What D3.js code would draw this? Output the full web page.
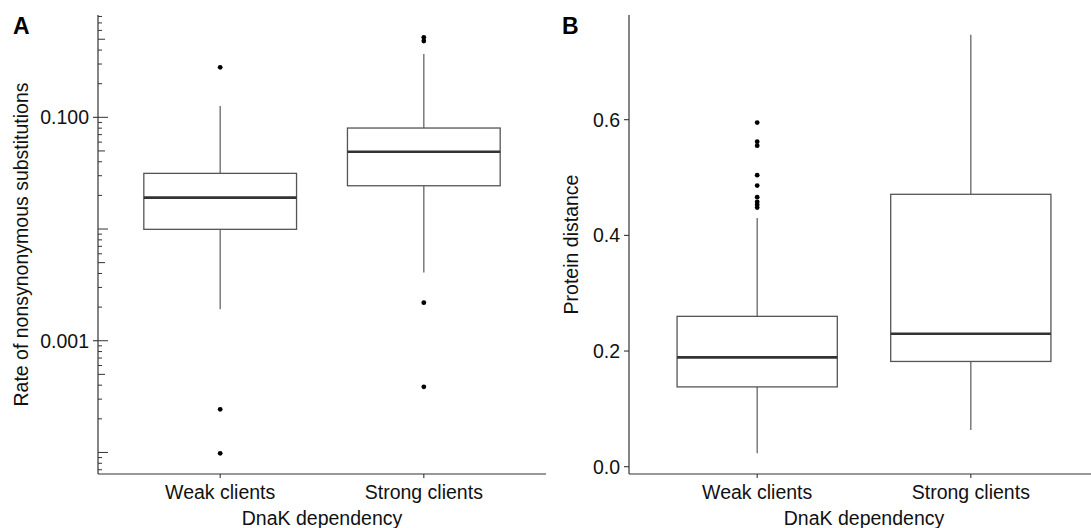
<!DOCTYPE html>
<html>
<head>
<meta charset="utf-8">
<script src="https://cdn.jsdelivr.net/npm/d3@7"></script>
<style>
  html, body { margin: 0; padding: 0; background: #fff; }
  svg { display: block; }
</style>
</head>
<body>
<div id="vis"></div>
<script>
// categories shared by both panels
const categories = ["Weak clients", "Strong clients"];

// panel A: rate of nonsynonymous substitutions (log scale)
const rateLow = [0.00191, 0.00409];
const rateQ1 = [0.00994, 0.0244];
const rateMedian = [0.0191, 0.0492];
const rateQ3 = [0.0315, 0.0802];
const rateHigh = [0.126, 0.369];
const rateOutliers = [[0.280, 0.000243, 0.0000982], [0.520, 0.482, 0.00219, 0.000387]];
const rateTicks = [0.001, 0.1];
const rateTickLabels = ["0.001", "0.100"];

// panel B: protein distance
const distLow = [0.0232, 0.0635];
const distQ1 = [0.138, 0.182];
const distMedian = [0.189, 0.230];
const distQ3 = [0.260, 0.471];
const distHigh = [0.430, 0.747];
const distOutliers = [[0.595, 0.562, 0.555, 0.504, 0.486, 0.466, 0.458, 0.453, 0.448], []];
const distTicks = [0, 0.2, 0.4, 0.6];
const distTickLabels = ["0.0", "0.2", "0.4", "0.6"];

const width = 1091, height = 528;
const font = "'Liberation Sans', Arial, Helvetica, sans-serif";
const fontSize = 19.5;
const plotTop = 15, plotBottom = 474;

const svg = d3.select("#vis").append("svg")
  .attr("width", width)
  .attr("height", height)
  .attr("font-family", font);

function drawPanel(opt) {
  const x = d3.scalePoint()
    .domain(categories)
    .range([opt.left, opt.right])
    .padding(0.6);
  const y = opt.y;
  const boxW = x.step() * 0.75;

  const g = svg.append("g");

  // boxes
  categories.forEach((c, i) => {
    const cx = x(c);
    const bg = g.append("g");
    bg.append("line")
      .attr("x1", cx).attr("x2", cx)
      .attr("y1", y(opt.q3[i])).attr("y2", y(opt.high[i]))
      .attr("stroke", "#666").attr("stroke-width", 1.3);
    bg.append("line")
      .attr("x1", cx).attr("x2", cx)
      .attr("y1", y(opt.q1[i])).attr("y2", y(opt.low[i]))
      .attr("stroke", "#666").attr("stroke-width", 1.3);
    bg.append("rect")
      .attr("x", cx - boxW / 2)
      .attr("y", y(opt.q3[i]))
      .attr("width", boxW)
      .attr("height", y(opt.q1[i]) - y(opt.q3[i]))
      .attr("fill", "#fff")
      .attr("stroke", "#555")
      .attr("stroke-width", 1.3);
    bg.append("line")
      .attr("x1", cx - boxW / 2).attr("x2", cx + boxW / 2)
      .attr("y1", y(opt.median[i])).attr("y2", y(opt.median[i]))
      .attr("stroke", "#333").attr("stroke-width", 2.6);
    bg.selectAll("circle")
      .data(opt.outliers[i])
      .join("circle")
      .attr("cx", cx)
      .attr("cy", (d) => y(d))
      .attr("r", 2.4)
      .attr("fill", "#000");
  });

  // axis lines
  g.append("line")
    .attr("x1", opt.left).attr("x2", opt.left)
    .attr("y1", plotTop).attr("y2", plotBottom)
    .attr("stroke", "#333").attr("stroke-width", 1.2);
  g.append("line")
    .attr("x1", opt.left).attr("x2", opt.right)
    .attr("y1", plotBottom).attr("y2", plotBottom)
    .attr("stroke", "#333").attr("stroke-width", 1.2);

  // y ticks and labels
  const yt = g.append("g");
  opt.ticks.forEach((t, i) => {
    yt.append("line")
      .attr("x1", opt.left - 5).attr("x2", opt.left)
      .attr("y1", y(t)).attr("y2", y(t))
      .attr("stroke", "#333").attr("stroke-width", 1.1);
    yt.append("text")
      .attr("x", opt.left - 9)
      .attr("y", y(t))
      .attr("dy", "0.36em")
      .attr("text-anchor", "end")
      .attr("font-size", fontSize)
      .attr("fill", "#111")
      .text(opt.tickLabels[i]);
  });

  // x ticks and labels
  categories.forEach((c) => {
    g.append("line")
      .attr("x1", x(c)).attr("x2", x(c))
      .attr("y1", plotBottom).attr("y2", plotBottom + 4)
      .attr("stroke", "#333").attr("stroke-width", 1.1);
    g.append("text")
      .attr("x", x(c))
      .attr("y", 499)
      .attr("text-anchor", "middle")
      .attr("font-size", fontSize)
      .attr("fill", "#111")
      .text(c);
  });

  // titles
  g.append("text")
    .attr("x", (opt.left + opt.right) / 2)
    .attr("y", 525)
    .attr("text-anchor", "middle")
    .attr("font-size", fontSize)
    .attr("fill", "#111")
    .text("DnaK dependency");
  g.append("text")
    .attr("transform", `translate(${opt.titleX},${(plotTop + plotBottom) / 2}) rotate(-90)`)
    .attr("text-anchor", "middle")
    .attr("font-size", fontSize)
    .attr("fill", "#111")
    .text(opt.yTitle);
  g.append("text")
    .attr("x", opt.letterX)
    .attr("y", 34)
    .attr("font-size", 23)
    .attr("font-weight", "bold")
    .attr("fill", "#000")
    .text(opt.letter);

  return g;
}

// panel A
const yRate = d3.scaleLog()
  .domain([Math.pow(10, -4.193), Math.pow(10, -0.084)])
  .range([plotBottom, plotTop]);

const panelA = drawPanel({
  left: 98, right: 546, y: yRate,
  low: rateLow, q1: rateQ1, median: rateMedian, q3: rateQ3, high: rateHigh,
  outliers: rateOutliers,
  ticks: rateTicks, tickLabels: rateTickLabels,
  yTitle: "Rate of nonsynonymous substitutions", titleX: 28,
  letter: "A", letterX: 13
});

// log ticks inside panel A (short, mid at 5, long at powers of ten)
const [lo, hi] = yRate.domain();
const logTicks = [];
for (let k = Math.floor(Math.log10(lo)); k <= Math.ceil(Math.log10(hi)); k++) {
  for (let m = 1; m <= 9; m++) {
    const v = m * Math.pow(10, k);
    if (v >= lo && v <= hi) logTicks.push({ v, len: m === 1 ? 10 : m === 5 ? 7 : 4 });
  }
}
panelA.append("g")
  .selectAll("line")
  .data(logTicks)
  .join("line")
  .attr("x1", 98).attr("x2", (d) => 98 + d.len)
  .attr("y1", (d) => yRate(d.v)).attr("y2", (d) => yRate(d.v))
  .attr("stroke", "#333").attr("stroke-width", 1);

// panel B
const yDist = d3.scaleLinear()
  .domain([-0.0126, 0.781])
  .range([plotBottom, plotTop]);

drawPanel({
  left: 629, right: 1099, y: yDist,
  low: distLow, q1: distQ1, median: distMedian, q3: distQ3, high: distHigh,
  outliers: distOutliers,
  ticks: distTicks, tickLabels: distTickLabels,
  yTitle: "Protein distance", titleX: 578,
  letter: "B", letterX: 562
});
</script>
</body>
</html>
